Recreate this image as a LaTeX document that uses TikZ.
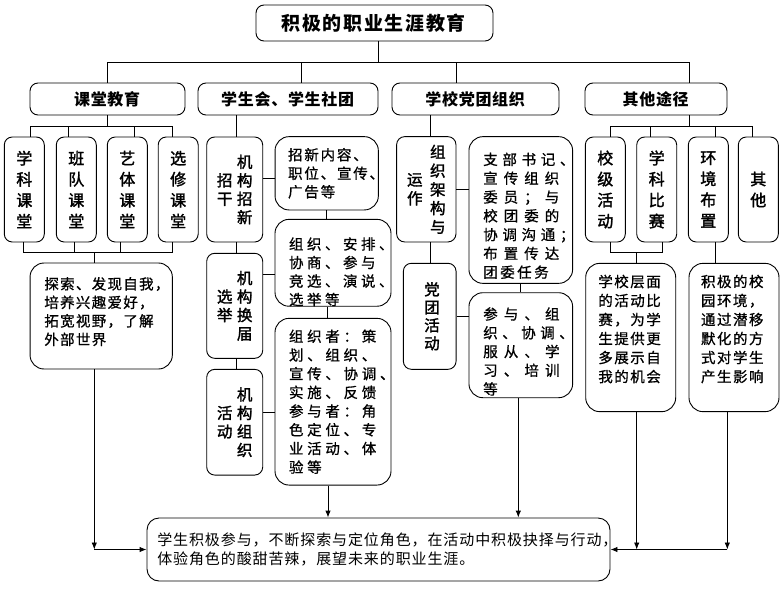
\documentclass[tikz,border=0pt]{standalone}
\usepackage{fontspec}
\setmainfont{Noto Sans CJK SC}
\newfontfamily\cjksb{Noto Sans CJK SC}[FakeBold=0.8]
\newfontfamily\cjkvb{Noto Sans CJK SC}[FakeBold=1.8]
\usetikzlibrary{arrows.meta}
\makeatletter
\newcommand\pl[2]{\leavevmode\def\pl@p{#1}\pl@#2\relax}
\def\pl@#1{\ifx\relax#1\else\hbox to \pl@p{#1\hss}\expandafter\pl@\fi}
\makeatother
\newcommand\vcol[1]{$\vcenter{\let\\\cr\lineskiplimit=-100pt\halign{\hfil##\hfil\cr#1\crcr}}$}
\newcommand\xht[1]{\rule{0pt}{#1}}
\newcommand\xdp[1]{\rule[-#1]{0pt}{#1}}
\lineskiplimit=-100pt
\begin{document}
\lineskiplimit=-100pt
\begin{tikzpicture}[x=1pt,y=-1pt,
  ln/.style={line width=0.9pt, draw=black},
  arr/.style={ln, -{Latex[length=7pt,width=5.5pt]}},
  headbox/.style={draw, line width=0.9pt, rounded corners=8pt, minimum height=32pt, inner sep=0pt, font=\fontsize{16}{20}\selectfont\bfseries},
  vertbox/.style={draw, line width=0.9pt, rounded corners=8pt, inner sep=0pt, minimum width=40pt, minimum height=105pt, font=\cjkvb\fontsize{16}{21}\selectfont},
  twobox/.style={draw, line width=0.9pt, rounded corners=8pt, inner sep=0pt},
  contbox/.style={draw, line width=0.9pt, rounded corners=14pt, align=left, inner ysep=0pt},
]
\fill[white] (0,0) rectangle (784,589);
\useasboundingbox (0,0) rectangle (784,589);

% title and headers
\node[headbox, minimum width=237pt, minimum height=36pt, font=\fontsize{19}{22}\selectfont\bfseries] (title) at (374.5,23) {\pl{20.7pt}{积极的职业生涯教育}};
\node[headbox, minimum width=155pt] (H1) at (107.5,99) {\pl{16.7pt}{课堂教育}};
\node[headbox, minimum width=180pt] (H2) at (288,99) {\pl{16.7pt}{学生会、学生社团}};
\node[headbox, minimum width=167pt] (H3) at (475.5,99) {\pl{16.7pt}{学校党团组织}};
\node[headbox, minimum width=142pt] (H4) at (656,99) {\pl{16.7pt}{其他途径}};

% classroom column
\node[vertbox] (C1) at (24.3,189.5) {\vcol{学\\科\\课\\堂}};
\node[vertbox] (C2) at (76.3,189.5) {\vcol{班\\队\\课\\堂}};
\node[vertbox] (C3) at (127.3,189.5) {\vcol{艺\\体\\课\\堂}};
\node[vertbox] (C4) at (178.2,189.5) {\vcol{选\\修\\课\\堂}};
\node[contbox, text width=113.7pt, inner xsep=14.3pt, minimum height=106pt, font=\cjksb\fontsize{14.5}{18.5}\selectfont] (E1) at (101.2,316) {\pl{15.8pt}{探索、发现自我，}\\\pl{15.8pt}{培养兴趣爱好，}\\\pl{15.8pt}{拓宽视野，了解}\\\pl{15.8pt}{外部世界}\xdp{10pt}};

% student union column
\node[twobox, minimum width=56pt, minimum height=105pt, font=\cjkvb\fontsize{15.5}{18.5}\selectfont] (S1) at (234.7,189.5) {\vcol{招\\干}\hspace{4.5pt}\vcol{机\\构\\招\\新}\hspace{14pt}};
\node[twobox, minimum width=56pt, minimum height=105pt, font=\cjkvb\fontsize{15.5}{18.5}\selectfont] (S2) at (234.7,305.8) {\vcol{选\\举}\hspace{4.5pt}\vcol{机\\构\\换\\届}\hspace{14pt}};
\node[twobox, minimum width=56pt, minimum height=105.7pt, font=\cjkvb\fontsize{15.5}{18.5}\selectfont] (S3) at (234.7,422.2) {\vcol{活\\动}\hspace{4.5pt}\vcol{机\\构\\组\\织}\hspace{14pt}};
\node[contbox, text width=77.3pt, inner xsep=13pt, minimum height=73.3pt, font=\cjksb\fontsize{14.5}{18.5}\selectfont] (T1) at (326.7,173.3) {\pl{16.3pt}{招新内容、}\\\pl{16.3pt}{职位、宣传、}\\\pl{16.3pt}{广告等}};
\node[contbox, text width=88pt, inner xsep=14pt, minimum height=82.3pt, font=\cjksb\fontsize{14.5}{18.5}\selectfont] (T2) at (333,262.8) {\xht{30.2pt}\pl{18pt}{组织、安排、}\\\pl{18pt}{协商、参与}\\\pl{18pt}{竞选、演说、}\\\pl{18pt}{选举等}};
\node[contbox, text width=88pt, inner xsep=14pt, minimum height=166.7pt, font=\cjksb\fontsize{14.5}{18.7}\selectfont] (T3) at (333,401.7) {\pl{18.2pt}{组织者：策}\\\pl{18.2pt}{划、组织、}\\\pl{18.2pt}{宣传、协调、}\\\pl{18.2pt}{实施、反馈}\\\pl{18.2pt}{参与者：角}\\\pl{18.2pt}{色定位、专}\\\pl{18.2pt}{业活动、体}\\\pl{18.2pt}{验等}};

% party / league column
\node[twobox, minimum width=59.3pt, minimum height=105.3pt, font=\cjkvb\fontsize{15.5}{18.75}\selectfont] (P1) at (426.3,189.3) {\vcol{运\\作}\hspace{7.5pt}\vcol{组\\织\\架\\构\\与}\hspace{9.6pt}};
\node[twobox, minimum width=52.7pt, minimum height=106pt, font=\cjkvb\fontsize{15.5}{18}\selectfont] (P2) at (429.7,316.3) {\hspace{4.6pt}\vcol{党\\团\\活\\动}};
\node[contbox, text width=75.1pt, inner xsep=14.3pt, minimum height=146.7pt, font=\cjksb\fontsize{14.5}{18.8}\selectfont] (Q1) at (520.8,210) {\xht{23.8pt}\pl{19.2pt}{支部书记、}\\\pl{20.5pt}{宣传组织}\\\pl{20.5pt}{委员；与}\\\pl{20.5pt}{校团委的}\\\pl{19.2pt}{协调沟通；}\\\pl{20.5pt}{布置传达}\\\pl{17pt}{团委任务}};
\node[contbox, text width=75.1pt, inner xsep=14.3pt, minimum height=105pt, font=\cjksb\fontsize{14.5}{18.75}\selectfont] (Q2) at (520.8,345.2) {\xht{24.8pt}\pl{20.6pt}{参与、组}\\\pl{19pt}{织、协调、}\\\pl{20.6pt}{服从、学}\\\pl{20.6pt}{习、培训}\\\pl{17pt}{等}};

% other ways column
\node[vertbox] (R1) at (605.3,189.5) {\vcol{校\\级\\活\\动}};
\node[vertbox] (R2) at (656.7,189.5) {\vcol{学\\科\\比\\赛}};
\node[vertbox] (R3) at (708.3,189.5) {\vcol{环\\境\\布\\置}};
\node[vertbox] (R4) at (758.3,189.5) {\vcol{其\\他}};
\node[contbox, text width=64.8pt, inner xsep=12.6pt, minimum height=148.3pt, font=\cjksb\fontsize{14.5}{19}\selectfont] (G1) at (630.7,337.5) {\pl{16pt}{学校层面}\\\pl{16pt}{的活动比}\\\pl{16pt}{赛，为学}\\\pl{16pt}{生提供更}\\\pl{16pt}{多展示自}\\\pl{16pt}{我的机会}\xdp{18.2pt}};
\node[contbox, text width=66pt, inner xsep=12pt, minimum height=148.3pt, font=\cjksb\fontsize{14.5}{19}\selectfont] (G2) at (734,337.5) {\pl{16pt}{积极的校}\\\pl{16pt}{园环境，}\\\pl{16pt}{通过潜移}\\\pl{16pt}{默化的方}\\\pl{16pt}{式对学生}\\\pl{16pt}{产生影响}\xdp{18.2pt}};

% final box
\node[contbox, rounded corners=12pt, text width=442.4pt, inner xsep=10.3pt, minimum height=63pt, font=\fontsize{15}{18.3}\selectfont] (F) at (378.5,549.5) {\pl{15.9pt}{学生积极参与，不断探索与定位角色，在活动中积极抉择与行动，}\\\pl{15.9pt}{体验角色的酸甜苦辣，展望未来的职业生涯。}};

% bus coordinates
\coordinate (busT) at (0,62);
\coordinate (busA) at (0,126);
\coordinate (busB) at (0,252);

% top tree
\draw[ln] ([xshift=3.5pt]title.south) -- ([xshift=3.5pt]title.south |- busT);
\draw[ln] (H1.north |- busT) -- ([xshift=33pt]H4.north |- busT);
\draw[ln] (H1.north |- busT) -- (H1.north);
\draw[ln] ([xshift=13pt]H2.north |- busT) -- ([xshift=13pt]H2.north);
\draw[ln] ([xshift=-19.5pt]H3.north |- busT) -- ([xshift=-19.5pt]H3.north);
\draw[ln] ([xshift=33pt]H4.north |- busT) -- ([xshift=33pt]H4.north);

% classroom connectors
\draw[ln] (H1.south) -- (H1.south |- busA);
\draw[ln] ([xshift=5.7pt]C1.north |- busA) -- ([xshift=-5.9pt]C4.north |- busA);
\draw[ln] ([xshift=5.7pt]C1.north |- busA) -- ([xshift=5.7pt]C1.north);
\draw[ln] ([xshift=-8pt]C2.north |- busA) -- ([xshift=-8pt]C2.north);
\draw[ln] ([xshift=6.7pt]C3.north |- busA) -- ([xshift=6.7pt]C3.north);
\draw[ln] ([xshift=-5.9pt]C4.north |- busA) -- ([xshift=-5.9pt]C4.north);
\draw[ln] ([xshift=-1pt]C1.south) -- ([xshift=-1pt]C1.south |- busB) -- ([xshift=-5.9pt]C4.south |- busB) -- ([xshift=-5.9pt]C4.south);
\draw[ln] ([xshift=-2.3pt]C2.south) -- ([xshift=-2.3pt]C2.south |- busB);
\draw[ln] ([xshift=-7.3pt]C3.south) -- ([xshift=-7.3pt]C3.south |- busB);
\draw[ln] ([xshift=-6.9pt]E1.north |- busB) -- ([xshift=-6.9pt]E1.north);

% student union connectors
\draw[ln] ([xshift=2pt]S1.north) -- ([xshift=2pt]S1.north |- H2.south);
\draw[ln] ([xshift=2pt]S1.south) -- ([xshift=2pt]S2.north);
\draw[ln] ([xshift=2pt]S2.south) -- ([xshift=2pt]S3.north);
\draw[ln] ([yshift=-4.7pt]T1.west) -- ([yshift=-4.7pt]T1.west -| S1.east);
\draw[ln] ([yshift=-11.2pt]T2.west) -- ([yshift=-11.2pt]T2.west -| S2.east);
\draw[ln] ([yshift=-10.3pt]T3.west) -- ([yshift=-10.3pt]T3.west -| S3.east);
\draw[ln] (T1.south) -- (T1.south |- T2.north);
\draw[ln] ([xshift=-6pt]T2.south) -- ([xshift=-6pt]T3.north);

% party connectors
\draw[ln] ([xshift=4.4pt]P1.north) -- ([xshift=4.4pt]P1.north |- H3.south);
\draw[ln] ([xshift=4.4pt]P1.south) -- ([xshift=4.4pt]P1.south |- P2.north);
\draw[ln] (P1.east) -- (P1.east -| Q1.west);
\draw[ln] (P2.east) -- (P2.east -| Q2.west);
\draw[ln] (Q1.south) -- (Q1.south |- Q2.north);

% other ways connectors
\draw[ln] ([xshift=33pt]H4.south) -- ([xshift=33pt]H4.south |- busA);
\draw[ln] ([xshift=5.4pt]R1.north |- busA) -- ([xshift=-6pt]R4.north |- busA);
\draw[ln] ([xshift=5.4pt]R1.north |- busA) -- ([xshift=5.4pt]R1.north);
\draw[ln] ([xshift=-6.7pt]R2.north |- busA) -- ([xshift=-6.7pt]R2.north);
\draw[ln] ([xshift=6.7pt]R3.north |- busA) -- ([xshift=6.7pt]R3.north);
\draw[ln] ([xshift=-6pt]R4.north |- busA) -- ([xshift=-6pt]R4.north);
\draw[ln] ([xshift=5.4pt]R1.south) -- ([xshift=5.4pt]R1.south |- busB) -- ([xshift=5.6pt]R2.south |- busB) -- ([xshift=5.6pt]R2.south);
\draw[ln] ([xshift=6pt]G1.north |- busB) -- ([xshift=6pt]G1.north);
\draw[ln] ([xshift=6.7pt]R3.south) -- ([xshift=6.7pt]R3.south |- G2.north);

% arrows into final box
\path ([xshift=-6.9pt]E1.south |- F.west) coordinate (jl);
\draw[arr] ([xshift=-6.9pt]E1.south) -- (jl);
\draw[arr] (jl) -- (F.west);
\draw[arr] ([xshift=-5pt]T3.south) -- ([xshift=-5pt]T3.south |- F.north);
\draw[arr] ([xshift=-2.5pt]Q2.south) -- ([xshift=-2.5pt]Q2.south |- F.north);
\draw[arr] ([xshift=6pt]G1.south) -- ([xshift=6pt]G1.south |- F.east);
\path ([xshift=-6.7pt]G2.south |- F.east) coordinate (jr);
\draw[arr] ([xshift=-6.7pt]G2.south) -- (jr);
\draw[arr] (jr) -- (F.east);
\end{tikzpicture}
\end{document}
